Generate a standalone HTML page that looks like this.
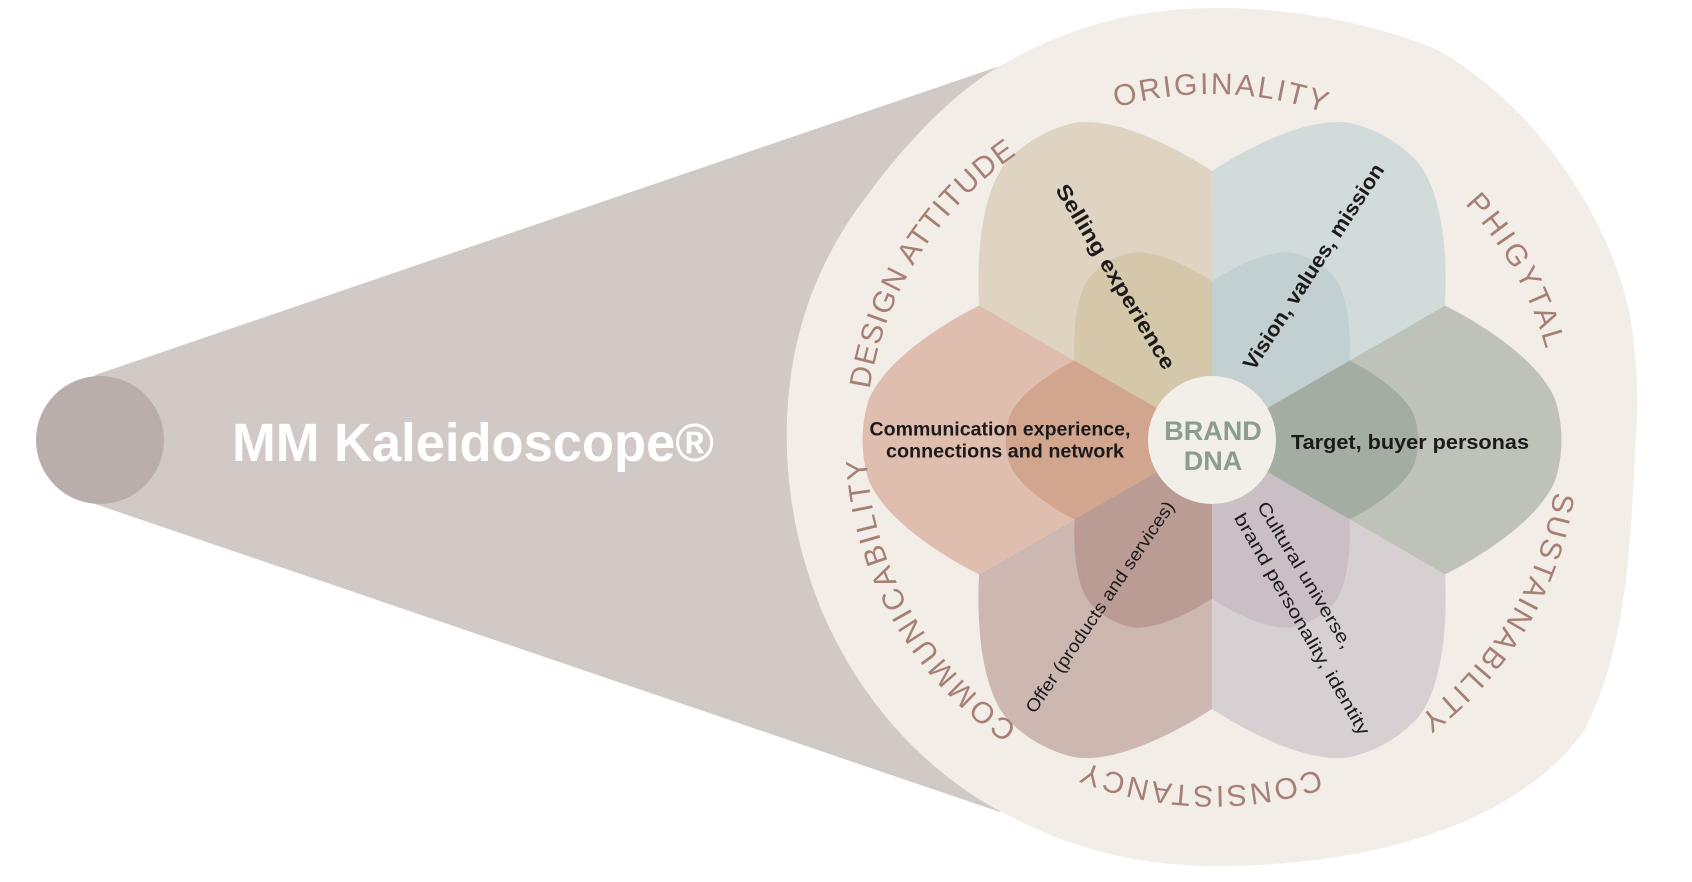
<!DOCTYPE html>
<html><head><meta charset="utf-8"><style>
html,body{margin:0;padding:0;background:#fff;}
svg{display:block;}
</style></head><body>
<svg width="1692" height="882" viewBox="0 0 1692 882" xmlns="http://www.w3.org/2000/svg">
<defs>
<path id="petal" d="M0,0 L233,-134.5 C285,-108 332,-72 344,-38 Q355,0 344,38 C332,72 285,108 233,134.5 Z"/>
<path id="ring" d="M866,440 A346,346 0 0 1 1558,440 A346,346 0 0 1 866,440"/>
</defs>
<polygon points="95,375 1000,66 1000,812 95,504" fill="#d1c9c6"/>
<ellipse cx="100" cy="440" rx="64" ry="64" fill="#b9aeab"/>
<text x="232" y="461" font-family="Liberation Sans, sans-serif" font-weight="bold" font-size="54" fill="#ffffff" textLength="482" lengthAdjust="spacingAndGlyphs">MM Kaleidoscope®</text>
<path d="M998,67 C1070,25 1140,8 1216,8 C1300,8 1380,25 1440,51 C1540,110 1610,220 1630,315 C1640,380 1638,420 1635,450 C1630,580 1620,660 1584,731 C1520,820 1380,866 1216,866 C1120,866 1050,840 987,804 C880,740 800,620 788,470 C780,360 810,270 866,197 C900,150 950,95 998,67 Z" fill="#f2ede7"/>
<g transform="translate(1212,440)">
 <use href="#petal" transform="rotate(0)" fill="#bec2b8"/>
 <use href="#petal" transform="rotate(-60)" fill="#d1dbd9"/>
 <use href="#petal" transform="rotate(-120)" fill="#dfd4c1"/>
 <use href="#petal" transform="rotate(180)" fill="#dfbdaf"/>
 <use href="#petal" transform="rotate(120)" fill="#cdb8b1"/>
 <use href="#petal" transform="rotate(60)" fill="#d6d0d2"/>
 <use href="#petal" transform="rotate(0) scale(0.59)" fill="#a3ada1"/>
 <use href="#petal" transform="rotate(-60) scale(0.59)" fill="#c3d0d1"/>
 <use href="#petal" transform="rotate(-120) scale(0.59)" fill="#d5c7aa"/>
 <use href="#petal" transform="rotate(180) scale(0.59)" fill="#d2a58f"/>
 <use href="#petal" transform="rotate(120) scale(0.59)" fill="#bb9c94"/>
 <use href="#petal" transform="rotate(60) scale(0.59)" fill="#c9bfc5"/>
 <circle cx="0" cy="0" r="64" fill="#f2eee8"/>
</g>
<g font-family="Liberation Sans, sans-serif" font-weight="bold" fill="#8b9d8f" font-size="27" text-anchor="middle">
 <text x="1213" y="440">BRAND</text>
 <text x="1213" y="470">DNA</text>
</g>
<g font-family="Liberation Sans, sans-serif" fill="#1c1a1a" text-anchor="middle" dominant-baseline="central">
 <text transform="translate(1115,277) rotate(59)" font-weight="bold" font-size="21" textLength="212" lengthAdjust="spacingAndGlyphs">Selling experience</text>
 <text transform="translate(1314,267) rotate(-57)" font-weight="bold" font-size="21" textLength="241" lengthAdjust="spacingAndGlyphs">Vision, values, mission</text>
 <text x="1000" y="430" font-weight="bold" font-size="19" textLength="261" lengthAdjust="spacingAndGlyphs">Communication experience,</text>
 <text x="1005" y="452" font-weight="bold" font-size="19" textLength="238" lengthAdjust="spacingAndGlyphs">connections and network</text>
 <text x="1410" y="443" font-weight="bold" font-size="20" textLength="238" lengthAdjust="spacingAndGlyphs">Target, buyer personas</text>
 <text transform="translate(1100,607) rotate(-56)" font-size="18" textLength="251" lengthAdjust="spacingAndGlyphs">Offer (products and services)</text>
 <text transform="translate(1305,575) rotate(59)" font-size="18" textLength="168" lengthAdjust="spacingAndGlyphs">Cultural universe,</text>
 <text transform="translate(1302,624) rotate(60)" font-size="18" textLength="253" lengthAdjust="spacingAndGlyphs">brand personality, identity</text>
</g>
<g font-family="Liberation Sans, sans-serif" font-size="30" fill="#a67f76" text-anchor="middle">
 <text><textPath href="#ring" startOffset="8.9%" textLength="285" lengthAdjust="spacing">DESIGN ATTITUDE</textPath></text>
 <text><textPath href="#ring" startOffset="25.4%" textLength="212" lengthAdjust="spacing">ORIGINALITY</textPath></text>
 <text><textPath href="#ring" startOffset="41.9%" textLength="168" lengthAdjust="spacing">PHIGYTAL</textPath></text>
 <text><textPath href="#ring" startOffset="58.6%" textLength="270" lengthAdjust="spacing">SUSTAINABILITY</textPath></text>
 <text><textPath href="#ring" startOffset="75.5%" textLength="238" lengthAdjust="spacing">CONSISTANCY</textPath></text>
 <text><textPath href="#ring" startOffset="91.8%" textLength="318" lengthAdjust="spacing">COMMUNICABILITY</textPath></text>
</g>
</svg>
</body></html>
